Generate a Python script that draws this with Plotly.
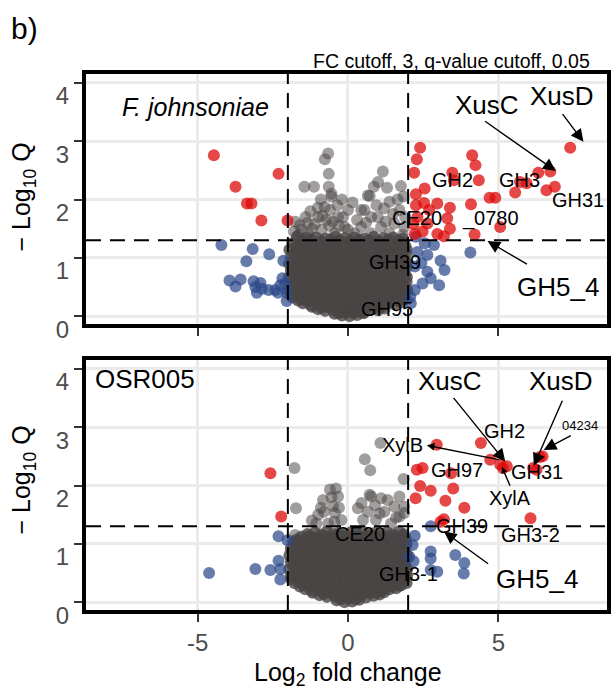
import plotly.graph_objects as go

# ---------------- data ----------------
x_ticks = [-5, 0, 5]
x_tick_text = ["-5", "0", "5"]
y_ticks = [0, 1, 2, 3, 4]
fc_cut = [-2, 2]
q_cut = 1.301

# top panel: F. johnsoniae  (log2FC, -log10 Q)
top_up = [(-4.46, 2.76), (-2.31, 2.44), (-3.74, 2.22), (-3.36, 1.93), (-3.21, 1.93), (-2.88, 1.64), (-2.01, 1.64),
          (2.40, 2.89), (2.29, 2.69), (2.20, 2.46), (2.55, 2.19), (2.26, 2.09), (2.26, 1.90), (2.53, 1.94),
          (2.70, 1.82), (2.31, 1.70), (2.18, 1.58), (2.64, 1.59), (2.48, 1.45), (2.22, 1.41), (2.97, 1.93),
          (3.39, 1.86), (3.30, 1.68), (3.39, 1.50), (3.19, 1.37), (2.97, 1.41), (3.47, 2.46), (3.52, 2.33),
          (4.35, 2.33), (4.13, 2.76), (4.24, 2.59), (4.71, 2.03), (4.90, 2.03), (4.09, 1.92), (5.06, 1.53),
          (4.21, 1.40), (5.56, 2.12), (5.72, 2.30), (5.94, 2.28), (6.33, 2.46), (6.73, 2.48), (6.60, 2.16),
          (6.88, 2.22), (7.39, 2.89)]
top_low = [(-4.21, 1.22), (-3.17, 1.15), (-2.62, 1.06), (-3.38, 0.94), (-2.15, 0.95), (-3.94, 0.61), (-3.57, 0.63),
           (-3.74, 0.51), (-3.14, 0.60), (-2.91, 0.57), (-3.08, 0.50), (-2.86, 0.47), (-3.03, 0.40), (-2.64, 0.45),
           (-2.42, 0.45), (-2.25, 0.53), (-2.18, 0.65), (-2.33, 0.40), (-2.04, 0.26), (-2.04, 0.40), (-2.09, 0.56),
           (4.07, 1.09), (2.26, 1.36), (2.55, 1.25), (2.86, 1.22), (2.64, 1.05), (3.08, 0.95), (3.21, 0.79),
           (2.44, 0.91), (2.22, 0.85), (2.64, 0.76), (2.75, 0.65), (3.03, 0.53), (2.48, 0.56), (2.22, 0.45),
           (2.09, 0.22), (2.07, 0.33), (2.31, 1.10)]
# not significant, isolated (light) points
top_ns_sparse = [
    (-0.66, 2.79), (-0.77, 2.69), (-0.64, 2.44), (-1.45, 2.22), (-1.13, 2.22), (-0.64, 2.22), (-0.55, 2.05),
    (-0.77, 1.87), (-0.60, 1.82), (-1.41, 1.70), (-0.99, 1.70), (-0.72, 1.65), (-1.10, 1.58), (-0.50, 1.62),
    (-1.65, 1.39), (-1.32, 1.42), (-0.88, 1.48), (-0.44, 1.42), (-0.11, 1.53), (-0.17, 1.70), (0.00, 1.82),
    (0.55, 1.82), (0.66, 2.07), (0.86, 2.22), (0.77, 1.70), (0.44, 1.53), (0.22, 1.42), (1.16, 2.48),
    (1.76, 2.23), (0.72, 2.06), (1.38, 1.96), (1.85, 2.05), (1.71, 1.82), (0.44, 1.82), (0.99, 1.70),
    (-0.33, 1.70), (-0.55, 2.10), (0.00, 1.48), (1.10, 1.53), (1.54, 1.59), (1.87, 1.53), (0.77, 1.42),
    (1.38, 1.42), (1.82, 1.39), (-1.20, 1.50), (-1.55, 1.48), (1.25, 1.62),
    (-1.80, 1.45), (-1.60, 1.56), (-1.35, 1.60), (-1.25, 1.80), (-1.00, 1.86), (-0.90, 2.00), (-0.35, 1.90),
    (-0.30, 1.55), (-0.20, 2.00), (-1.75, 1.62), (-0.85, 1.72), (-0.62, 1.55),
    (0.30, 1.65), (0.60, 1.60), (0.95, 1.90), (1.20, 1.85), (1.50, 1.75), (1.65, 2.00), (0.15, 1.95),
    (1.00, 2.30), (1.30, 2.20), (1.90, 1.70),
]
# not significant, dense core
top_ns_dense = [
    (-0.45, 0.04), (-0.20, 0.01), (0.05, 0.00), (0.30, 0.02), (0.52, 0.05),
    (-0.32, 0.05), (-0.08, 0.06), (0.18, 0.05), (0.40, 0.07),
    (-1.00, 0.12), (-0.76, 0.09), (-0.50, 0.10), (-0.24, 0.07), (0.02, 0.08), (0.27, 0.10), (0.50, 0.07),
    (0.76, 0.11), (1.00, 0.10), (1.22, 0.13),
    (-1.20, 0.16), (-0.88, 0.14), (-0.62, 0.15), (-0.37, 0.13), (-0.11, 0.14), (0.14, 0.15), (0.39, 0.13),
    (0.63, 0.15), (0.88, 0.14), (1.12, 0.16),
    (-1.50, 0.22), (-1.24, 0.19), (-0.97, 0.20), (-0.72, 0.18), (-0.46, 0.21), (-0.20, 0.17), (0.06, 0.19),
    (0.31, 0.20), (0.56, 0.18), (0.82, 0.21), (1.06, 0.19), (1.31, 0.22), (1.55, 0.20), (1.78, 0.24),
    (-1.66, 0.27), (-1.37, 0.25), (-1.10, 0.24), (-0.84, 0.26), (-0.59, 0.24), (-0.33, 0.25), (-0.08, 0.23),
    (0.18, 0.25), (0.43, 0.24), (0.69, 0.26), (0.94, 0.24), (1.18, 0.25), (1.43, 0.27), (1.66, 0.26),
    (1.88, 0.29),
    (-1.84, 0.32), (-1.58, 0.30), (-1.33, 0.28), (-1.07, 0.31), (-0.81, 0.29), (-0.56, 0.30), (-0.31, 0.28),
    (-0.05, 0.31), (0.20, 0.29), (0.45, 0.30), (0.70, 0.28), (0.95, 0.31), (1.20, 0.29), (1.45, 0.31),
    (1.70, 0.30), (1.92, 0.30),
    (-1.90, 0.37), (-1.58, 0.36), (-1.33, 0.35), (-1.08, 0.37), (-0.82, 0.35), (-0.57, 0.36), (-0.32, 0.34),
    (-0.06, 0.37), (0.19, 0.35), (0.44, 0.36), (0.69, 0.34), (0.94, 0.37), (1.19, 0.35), (1.44, 0.36),
    (1.69, 0.34), (1.90, 0.37),
    (-1.96, 0.43), (-1.71, 0.41), (-1.46, 0.42), (-1.20, 0.40), (-0.94, 0.43), (-0.69, 0.41), (-0.44, 0.42),
    (-0.19, 0.40), (0.07, 0.43), (0.32, 0.41), (0.57, 0.42), (0.82, 0.40), (1.07, 0.43), (1.32, 0.41),
    (1.57, 0.42), (1.81, 0.40), (1.97, 0.44),
    (-1.83, 0.48), (-1.58, 0.47), (-1.33, 0.49), (-1.07, 0.46), (-0.81, 0.48), (-0.56, 0.47), (-0.31, 0.49),
    (-0.06, 0.46), (0.20, 0.48), (0.45, 0.47), (0.70, 0.49), (0.95, 0.46), (1.20, 0.48), (1.45, 0.47),
    (1.70, 0.49), (1.92, 0.47),
    (-1.90, 0.54), (-1.64, 0.52), (-1.39, 0.55), (-1.14, 0.53), (-0.88, 0.54), (-0.63, 0.52), (-0.38, 0.55),
    (-0.13, 0.53), (0.13, 0.54), (0.38, 0.52), (0.63, 0.55), (0.88, 0.53), (1.13, 0.54), (1.38, 0.52),
    (1.63, 0.55), (1.87, 0.53),
    (-1.77, 0.60), (-1.52, 0.59), (-1.27, 0.61), (-1.01, 0.58), (-0.76, 0.60), (-0.50, 0.59), (-0.25, 0.61),
    (0.00, 0.58), (0.25, 0.60), (0.50, 0.59), (0.75, 0.61), (1.00, 0.58), (1.25, 0.60), (1.50, 0.59),
    (1.75, 0.61), (1.95, 0.59),
    (-1.97, 0.66), (-1.72, 0.65), (-1.47, 0.67), (-1.22, 0.64), (-0.97, 0.66), (-0.72, 0.65), (-0.47, 0.67),
    (-0.22, 0.64), (0.03, 0.66), (0.28, 0.65), (0.53, 0.67), (0.78, 0.64), (1.03, 0.66), (1.28, 0.65),
    (1.53, 0.67), (1.78, 0.64), (1.96, 0.67),
    (-1.84, 0.72), (-1.59, 0.71), (-1.34, 0.73), (-1.09, 0.70), (-0.84, 0.72), (-0.59, 0.71), (-0.34, 0.73),
    (-0.09, 0.70), (0.16, 0.72), (0.41, 0.71), (0.66, 0.73), (0.91, 0.70), (1.16, 0.72), (1.41, 0.71),
    (1.66, 0.73), (1.90, 0.70),
    (-1.90, 0.78), (-1.65, 0.77), (-1.40, 0.79), (-1.15, 0.76), (-0.90, 0.78), (-0.65, 0.77), (-0.40, 0.79),
    (-0.15, 0.76), (0.10, 0.78), (0.35, 0.77), (0.60, 0.79), (0.85, 0.76), (1.10, 0.78), (1.35, 0.77),
    (1.60, 0.79), (1.85, 0.76),
    (-1.78, 0.84), (-1.53, 0.83), (-1.28, 0.85), (-1.03, 0.82), (-0.78, 0.84), (-0.53, 0.83), (-0.28, 0.85),
    (-0.03, 0.82), (0.22, 0.84), (0.47, 0.83), (0.72, 0.85), (0.97, 0.82), (1.22, 0.84), (1.47, 0.83),
    (1.72, 0.85), (1.94, 0.83),
    (-1.96, 0.90), (-1.71, 0.89), (-1.46, 0.91), (-1.21, 0.88), (-0.96, 0.90), (-0.71, 0.89), (-0.46, 0.91),
    (-0.21, 0.88), (0.04, 0.90), (0.29, 0.89), (0.54, 0.91), (0.79, 0.88), (1.04, 0.90), (1.29, 0.89),
    (1.54, 0.91), (1.79, 0.88), (1.96, 0.91),
    (-1.84, 0.96), (-1.59, 0.95), (-1.34, 0.97), (-1.09, 0.94), (-0.84, 0.96), (-0.59, 0.95), (-0.34, 0.97),
    (-0.09, 0.94), (0.16, 0.96), (0.41, 0.95), (0.66, 0.97), (0.91, 0.94), (1.16, 0.96), (1.41, 0.95),
    (1.66, 0.97), (1.90, 0.94),
    (-1.90, 1.02), (-1.65, 1.01), (-1.40, 1.03), (-1.15, 1.00), (-0.90, 1.02), (-0.65, 1.01), (-0.40, 1.03),
    (-0.15, 1.00), (0.10, 1.02), (0.35, 1.01), (0.60, 1.03), (0.85, 1.00), (1.10, 1.02), (1.35, 1.01),
    (1.60, 1.03), (1.85, 1.00),
    (-1.78, 1.08), (-1.53, 1.07), (-1.28, 1.09), (-1.03, 1.06), (-0.78, 1.08), (-0.53, 1.07), (-0.28, 1.09),
    (-0.03, 1.06), (0.22, 1.08), (0.47, 1.07), (0.72, 1.09), (0.97, 1.06), (1.22, 1.08), (1.47, 1.07),
    (1.72, 1.09), (1.94, 1.07),
    (-1.95, 1.14), (-1.70, 1.13), (-1.45, 1.15), (-1.20, 1.12), (-0.95, 1.14), (-0.70, 1.13), (-0.45, 1.15),
    (-0.20, 1.12), (0.05, 1.14), (0.30, 1.13), (0.55, 1.15), (0.80, 1.12), (1.05, 1.14), (1.30, 1.13),
    (1.55, 1.15), (1.80, 1.12), (1.95, 1.15),
    (-1.72, 1.20), (-1.46, 1.19), (-1.20, 1.21), (-0.94, 1.18), (-0.68, 1.20), (-0.42, 1.19), (-0.16, 1.21),
    (0.10, 1.18), (0.36, 1.20), (0.62, 1.19), (0.88, 1.21), (1.14, 1.18), (1.40, 1.20), (1.66, 1.19),
    (1.90, 1.21),
    (-1.85, 1.25), (-1.58, 1.24), (-1.32, 1.26), (-1.06, 1.23), (-0.80, 1.25), (-0.54, 1.24), (-0.28, 1.26),
    (-0.02, 1.23), (0.24, 1.25), (0.50, 1.24), (0.76, 1.26), (1.02, 1.23), (1.28, 1.25), (1.54, 1.24),
    (1.80, 1.26),
    (-1.56, 1.30), (-1.22, 1.31), (-0.90, 1.29), (-0.58, 1.31), (-0.26, 1.30), (0.06, 1.29), (0.38, 1.31),
    (0.70, 1.30), (1.02, 1.29), (1.34, 1.31), (1.66, 1.30),
    (-1.70, 1.36), (-1.38, 1.34), (-1.06, 1.35), (-0.74, 1.33), (-0.42, 1.36), (-0.10, 1.34), (0.22, 1.35),
    (0.54, 1.33), (0.86, 1.36), (1.18, 1.34), (1.50, 1.35), (1.82, 1.33),
]

# bottom panel: OSR005
bot_up = [(-2.58, 2.21), (-2.22, 1.47),
          (2.95, 2.70), (4.42, 2.73), (4.73, 2.44), (5.06, 2.36), (5.28, 2.33), (5.15, 2.30), (6.16, 2.30),
          (6.38, 2.49), (6.47, 2.50), (6.27, 2.27), (2.29, 2.27), (2.48, 2.30), (3.43, 2.21), (2.40, 1.99),
          (2.75, 1.91), (3.50, 1.95), (2.25, 1.78), (3.24, 1.74), (3.87, 1.62), (3.08, 1.38), (3.19, 1.42),
          (6.07, 1.44)]
bot_low = [(-2.31, 1.13), (-2.01, 1.06), (-2.31, 0.71), (-2.58, 0.55), (-2.25, 0.57), (-2.25, 0.39),
           (-3.08, 0.57), (-4.62, 0.50),
           (2.75, 1.30), (2.22, 1.14), (2.15, 0.98), (2.04, 0.78), (2.75, 0.87), (2.75, 0.75), (3.57, 0.81),
           (3.87, 0.67), (3.85, 0.49), (2.97, 0.52), (2.75, 0.55), (2.18, 0.70)]
bot_ns_sparse = [
    (-1.78, 2.30), (-1.73, 1.61), (1.08, 2.73), (0.56, 2.45), (0.74, 2.26), (1.85, 2.11),
    (-0.60, 1.93), (-0.33, 1.81), (-0.83, 1.75), (-0.99, 1.50), (-0.44, 1.53), (-0.22, 1.41), (-0.66, 1.35),
    (-0.50, 1.65), (-1.20, 1.40), (-0.80, 1.55), (0.72, 1.84), (1.10, 1.78), (1.32, 1.75), (1.54, 1.64),
    (0.33, 1.61), (0.66, 1.55), (1.21, 1.55), (1.71, 1.47), (0.50, 1.41), (0.93, 1.41), (1.43, 1.35),
    (1.87, 1.64), (1.71, 1.81), (1.87, 1.53), (0.77, 1.81), (-1.76, 1.15), (-1.54, 0.98), (-1.85, 1.05),
    (-0.55, 1.80), (-0.40, 1.95), (-0.90, 1.62), (-0.30, 1.62), (0.90, 1.66), (1.05, 1.52), (0.45, 1.70),
    (1.60, 1.45), (-1.05, 1.35), (-0.45, 1.38),
]
bot_ns_dense = [
    (-0.38, 0.03), (-0.12, 0.00), (0.14, 0.01), (0.38, 0.04),
    (-0.25, 0.05), (0.01, 0.06), (0.26, 0.05),
    (-0.95, 0.12), (-0.70, 0.09), (-0.44, 0.10), (-0.18, 0.08), (0.08, 0.09), (0.34, 0.10), (0.60, 0.08),
    (0.85, 0.11), (1.05, 0.13),
    (-1.18, 0.16), (-0.82, 0.14), (-0.57, 0.15), (-0.31, 0.13), (-0.05, 0.14), (0.21, 0.15), (0.47, 0.13),
    (0.72, 0.15), (0.96, 0.16), (1.20, 0.17),
    (-1.42, 0.22), (-1.17, 0.19), (-0.91, 0.20), (-0.66, 0.18), (-0.40, 0.21), (-0.14, 0.19), (0.12, 0.20),
    (0.37, 0.18), (0.62, 0.21), (0.88, 0.19), (1.13, 0.20), (1.38, 0.22), (1.60, 0.24),
    (-1.60, 0.27), (-1.30, 0.25), (-1.04, 0.26), (-0.78, 0.24), (-0.53, 0.26), (-0.27, 0.25), (-0.01, 0.24),
    (0.25, 0.26), (0.50, 0.25), (0.75, 0.24), (1.00, 0.26), (1.25, 0.25), (1.49, 0.27), (1.72, 0.28),
    (-1.78, 0.33), (-1.52, 0.31), (-1.27, 0.30), (-1.01, 0.32), (-0.76, 0.30), (-0.50, 0.31), (-0.25, 0.29),
    (0.01, 0.32), (0.26, 0.30), (0.51, 0.31), (0.77, 0.29), (1.02, 0.32), (1.27, 0.30), (1.52, 0.31),
    (1.77, 0.29), (1.95, 0.33),
    (-1.88, 0.39), (-1.65, 0.38), (-1.40, 0.37), (-1.14, 0.39), (-0.88, 0.37), (-0.63, 0.38), (-0.37, 0.36),
    (-0.12, 0.39), (0.14, 0.37), (0.39, 0.38), (0.64, 0.36), (0.90, 0.39), (1.15, 0.37), (1.40, 0.38),
    (1.65, 0.36), (1.88, 0.39),
    (-1.90, 0.44), (-1.65, 0.42), (-1.40, 0.45), (-1.15, 0.43), (-0.89, 0.44), (-0.64, 0.42), (-0.39, 0.45),
    (-0.14, 0.43), (0.12, 0.44), (0.37, 0.42), (0.62, 0.45), (0.87, 0.43), (1.12, 0.44), (1.37, 0.42),
    (1.62, 0.45), (1.86, 0.43), (1.97, 0.46),
    (-1.78, 0.50), (-1.53, 0.49), (-1.28, 0.51), (-1.02, 0.48), (-0.77, 0.50), (-0.52, 0.49), (-0.27, 0.51),
    (-0.02, 0.48), (0.24, 0.50), (0.49, 0.49), (0.74, 0.51), (0.99, 0.48), (1.24, 0.50), (1.49, 0.49),
    (1.74, 0.51), (1.93, 0.50),
    (-1.95, 0.56), (-1.70, 0.55), (-1.45, 0.57), (-1.20, 0.54), (-0.95, 0.56), (-0.70, 0.55), (-0.45, 0.57),
    (-0.20, 0.54), (0.05, 0.56), (0.30, 0.55), (0.55, 0.57), (0.80, 0.54), (1.05, 0.56), (1.30, 0.55),
    (1.55, 0.57), (1.80, 0.54), (1.97, 0.57),
    (-1.83, 0.62), (-1.58, 0.61), (-1.33, 0.63), (-1.08, 0.60), (-0.83, 0.62), (-0.58, 0.61), (-0.33, 0.63),
    (-0.08, 0.60), (0.17, 0.62), (0.42, 0.61), (0.67, 0.63), (0.92, 0.60), (1.17, 0.62), (1.42, 0.61),
    (1.67, 0.63), (1.90, 0.61),
    (-1.90, 0.68), (-1.64, 0.67), (-1.39, 0.69), (-1.14, 0.66), (-0.88, 0.68), (-0.63, 0.67), (-0.38, 0.69),
    (-0.13, 0.66), (0.13, 0.68), (0.38, 0.67), (0.63, 0.69), (0.88, 0.66), (1.13, 0.68), (1.38, 0.67),
    (1.63, 0.69), (1.88, 0.66),
    (-1.78, 0.74), (-1.52, 0.73), (-1.27, 0.75), (-1.02, 0.72), (-0.76, 0.74), (-0.51, 0.73), (-0.26, 0.75),
    (0.00, 0.72), (0.25, 0.74), (0.50, 0.73), (0.75, 0.75), (1.00, 0.72), (1.25, 0.74), (1.50, 0.73),
    (1.75, 0.75), (1.94, 0.73),
    (-1.95, 0.80), (-1.70, 0.79), (-1.45, 0.81), (-1.20, 0.78), (-0.95, 0.80), (-0.70, 0.79), (-0.45, 0.81),
    (-0.20, 0.78), (0.05, 0.80), (0.30, 0.79), (0.55, 0.81), (0.80, 0.78), (1.05, 0.80), (1.30, 0.79),
    (1.55, 0.81), (1.80, 0.78), (1.97, 0.81),
    (-1.83, 0.86), (-1.58, 0.85), (-1.33, 0.87), (-1.08, 0.84), (-0.83, 0.86), (-0.58, 0.85), (-0.33, 0.87),
    (-0.08, 0.84), (0.17, 0.86), (0.42, 0.85), (0.67, 0.87), (0.92, 0.84), (1.17, 0.86), (1.42, 0.85),
    (1.67, 0.87), (1.90, 0.85),
    (-1.90, 0.92), (-1.65, 0.91), (-1.40, 0.93), (-1.15, 0.90), (-0.90, 0.92), (-0.65, 0.91), (-0.40, 0.93),
    (-0.15, 0.90), (0.10, 0.92), (0.35, 0.91), (0.60, 0.93), (0.85, 0.90), (1.10, 0.92), (1.35, 0.91),
    (1.60, 0.93), (1.85, 0.90),
    (-1.78, 0.98), (-1.53, 0.97), (-1.28, 0.99), (-1.03, 0.96), (-0.78, 0.98), (-0.53, 0.97), (-0.28, 0.99),
    (-0.03, 0.96), (0.22, 0.98), (0.47, 0.97), (0.72, 0.99), (0.97, 0.96), (1.22, 0.98), (1.47, 0.97),
    (1.72, 0.99), (1.93, 0.97),
    (-1.80, 1.03), (-1.55, 1.02), (-1.30, 1.04), (-1.05, 1.01), (-0.80, 1.03), (-0.55, 1.02), (-0.30, 1.04),
    (-0.05, 1.01), (0.20, 1.03), (0.45, 1.02), (0.70, 1.04), (0.95, 1.01), (1.20, 1.03), (1.45, 1.02),
    (1.70, 1.04), (1.95, 1.01),
    (-1.68, 1.08), (-1.42, 1.07), (-1.16, 1.09), (-0.90, 1.06), (-0.64, 1.08), (-0.38, 1.07), (-0.12, 1.09),
    (0.14, 1.06), (0.40, 1.08), (0.66, 1.07), (0.92, 1.09), (1.18, 1.06), (1.44, 1.08), (1.70, 1.07),
    (1.92, 1.09),
    (-1.55, 1.12), (-1.28, 1.14), (-1.02, 1.11), (-0.76, 1.13), (-0.50, 1.12), (-0.24, 1.14), (0.02, 1.11),
    (0.28, 1.13), (0.54, 1.12), (0.80, 1.14), (1.06, 1.11), (1.32, 1.13), (1.58, 1.12), (1.84, 1.14),
    (-1.35, 1.17), (-0.90, 1.16), (-0.50, 1.17), (-0.10, 1.16), (0.30, 1.17), (0.70, 1.16), (1.10, 1.17),
    (1.50, 1.16), (1.85, 1.17),
    (-1.10, 1.20), (-0.70, 1.21), (-0.30, 1.19), (0.10, 1.20), (0.50, 1.21), (0.90, 1.19), (1.30, 1.20),
    (1.70, 1.21),
]

# labels: (text, x, y, size)
top_labels = [("XusC", 4.62, 3.62, 26), ("XusD", 7.13, 3.77, 26), ("GH5_4", 6.98, 0.50, 26),
              ("GH2", 3.47, 2.33, 20), ("GH3", 5.70, 2.33, 20), ("GH31", 7.65, 1.99, 20),
              ("_0780", 4.73, 1.68, 20), ("CE20", 2.29, 1.68, 20), ("GH39", 1.56, 0.93, 20),
              ("GH95", 1.30, 0.13, 20)]
bot_labels = [("XusC", 3.38, 3.80, 26), ("XusD", 7.10, 3.80, 26), ("04234", 7.72, 3.03, 13),
              ("GH2", 5.19, 2.93, 20), ("XylB", 1.82, 2.70, 20), ("XylA", 5.39, 1.78, 20),
              ("GH97", 3.61, 2.27, 20), ("GH31", 6.30, 2.24, 20), ("GH39", 3.80, 1.31, 20),
              ("GH3-2", 6.07, 1.15, 20), ("CE20", 0.39, 1.17, 20), ("GH3-1", 2.00, 0.48, 20),
              ("GH5_4", 6.27, 0.39, 26)]
# arrows: (tail x, tail y, head x, head y, head scale)
top_arrows = [(4.51, 3.36, 6.91, 2.49, 1.8), (7.10, 3.49, 7.83, 2.99, 1.8), (6.00, 0.875, 4.64, 1.29, 1.8)]
bot_arrows = [(3.47, 3.53, 5.23, 2.41, 1.8), (7.15, 3.48, 6.18, 2.34, 1.8), (7.46, 2.87, 6.51, 2.61, 1.8),
              (5.06, 2.44, 2.62, 2.69, 1.1), (5.41, 1.97, 5.12, 2.32, 0.9), (4.71, 0.64, 3.19, 1.21, 1.8)]

# ---------------- layout geometry ----------------
W, H = 616, 690
ML, MR, MT, MB = 86, 5, 74, 80
PW, PH = W - ML - MR, H - MT - MB
XR = [-8.713, 8.614]
YR = [-0.135, 4.153]
FONT = "Liberation Sans, Arial, Helvetica, sans-serif"


def pxx(px):
    return (px - ML) / PW


def pxy(py):
    return (H - MB - py) / PH


GRAY, BLUE, RED = "#4a4545", "#2c4a8a", "#dd0a0a"

fig = go.Figure()


def add_pts(pts, color, op, xa, ya):
    fig.add_trace(go.Scatter(
        x=[p[0] for p in pts], y=[p[1] for p in pts], mode="markers", xaxis=xa, yaxis=ya,
        marker=dict(size=12, color=color, opacity=op, line=dict(width=0)),
        hoverinfo="skip", showlegend=False))


for sparse, dense, low, up, xa, ya in [
        (top_ns_sparse, top_ns_dense, top_low, top_up, "x", "y"),
        (bot_ns_sparse, bot_ns_dense, bot_low, bot_up, "x2", "y2")]:
    add_pts(sparse, GRAY, 0.52, xa, ya)
    add_pts(dense, GRAY, 0.8, xa, ya)
    add_pts(low, BLUE, 0.72, xa, ya)
    add_pts(up, RED, 0.75, xa, ya)

shapes = []
dash = "15px,9px"
for xa, ya in [("x", "y"), ("x2", "y2")]:
    for v in fc_cut:
        shapes.append(dict(type="line", xref=xa, yref=ya + " domain", x0=v, x1=v, y0=0, y1=1,
                           line=dict(color="black", width=2, dash=dash)))
    shapes.append(dict(type="line", xref=xa + " domain", yref=ya, x0=0, x1=1, y0=q_cut, y1=q_cut,
                       line=dict(color="black", width=2, dash=dash)))

ann = []
# arrows (filled heads at the head end)
for arrows, xa, ya in [(top_arrows, "x", "y"), (bot_arrows, "x2", "y2")]:
    for tx, ty, hx, hy, hs in arrows:
        ann.append(dict(text="", x=hx, y=hy, ax=tx, ay=ty, xref=xa, yref=ya, axref=xa, ayref=ya,
                        showarrow=True, arrowhead=2, arrowsize=hs, arrowwidth=1.4, arrowcolor="black",
                        standoff=0, startstandoff=0))

for labels, xa, ya in [(top_labels, "x", "y"), (bot_labels, "x2", "y2")]:
    for t, x, y, s in labels:
        ann.append(dict(text=t, x=x, y=y, xref=xa, yref=ya, showarrow=False, xanchor="center",
                        yanchor="middle", font=dict(size=s, color="black", family=FONT)))

# panel titles
ann.append(dict(text="<i>F. johnsoniae</i>", x=-7.59, y=3.59, xref="x", yref="y", showarrow=False,
                xanchor="left", yanchor="middle", font=dict(size=25, color="black", family=FONT)))
ann.append(dict(text="OSR005", x=-8.47, y=3.83, xref="x2", yref="y2", showarrow=False,
                xanchor="left", yanchor="middle", font=dict(size=26, color="black", family=FONT)))
# page texts
ann.append(dict(text="b)", x=pxx(8), y=pxy(28), xref="paper", yref="paper", showarrow=False,
                xanchor="left", yanchor="middle", font=dict(size=30, color="black", family=FONT)))
ann.append(dict(text="FC cutoff, 3, q-value cutoff, 0.05", x=pxx(596), y=pxy(61), xref="paper", yref="paper",
                showarrow=False, xanchor="right", yanchor="middle",
                font=dict(size=19.5, color="black", family=FONT)))
ann.append(dict(text="Log<sub>2</sub> fold change", x=pxx(350), y=pxy(674), xref="paper", yref="paper",
                showarrow=False, xanchor="center", yanchor="middle",
                font=dict(size=25, color="black", family=FONT)))
for cy in (197, 480):
    ann.append(dict(text="\u2212 Log<sub>10</sub> Q", x=pxx(23), y=pxy(cy), xref="paper", yref="paper",
                    showarrow=False, xanchor="center", yanchor="middle", textangle=-90,
                    font=dict(size=25, color="black", family=FONT)))

axis_common = dict(range=XR, tickvals=x_ticks, ticktext=x_tick_text, ticks="outside", ticklen=8, tickwidth=2,
                   tickcolor="#333333", showgrid=True, gridcolor="#ebebeb", gridwidth=2.5, zeroline=False,
                   showline=True, linecolor="black", linewidth=4, mirror=True,
                   tickfont=dict(size=24, color="#4d4d4d", family=FONT))
yaxis_common = dict(range=YR, tickvals=y_ticks, ticks="outside", ticklen=8, tickwidth=2,
                    tickcolor="#333333", showgrid=True, gridcolor="#ebebeb", gridwidth=2.5, zeroline=False,
                    showline=True, linecolor="black", linewidth=4, mirror=True, ticklabelshift=13,
                    tickfont=dict(size=24, color="#4d4d4d", family=FONT))

top_dom = [(H - MB - 324) / PH, 1]
bot_dom = [0, 250 / PH]

fig.update_layout(
    width=W, height=H, margin=dict(l=ML, r=MR, t=MT, b=MB),
    paper_bgcolor="white", plot_bgcolor="white",
    font=dict(family=FONT, color="black"),
    xaxis=dict(axis_common, anchor="y", domain=[0, 1], showticklabels=False),
    xaxis2=dict(axis_common, anchor="y2", domain=[0, 1], showticklabels=True),
    yaxis=dict(yaxis_common, anchor="x", domain=top_dom),
    yaxis2=dict(yaxis_common, anchor="x2", domain=bot_dom),
    shapes=shapes, annotations=ann, showlegend=False,
)

fig.write_html("out.html", config={"displayModeBar": False},
               post_script="document.body.style.margin='0';document.body.style.overflow='hidden';")
